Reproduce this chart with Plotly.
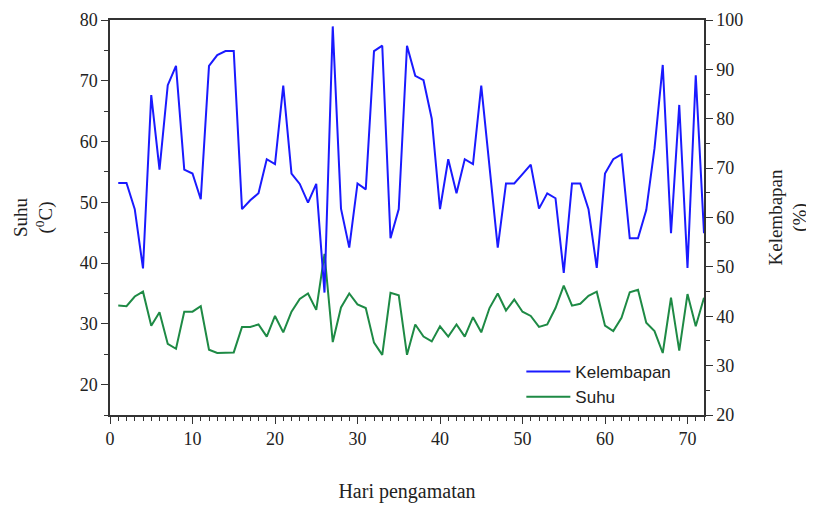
import plotly.graph_objects as go

days = list(range(1, 73))

kelembapan = [
    67, 67, 61.7, 49.7, 84.8, 69.7, 86.8, 90.7, 69.7, 68.9,
    63.7, 90.7, 92.9, 93.7, 93.7, 61.7, 63.5, 64.9, 71.8, 70.8,
    86.7, 68.9, 66.8, 63, 66.8, 44.8, 98.7, 61.8, 53.9, 66.9,
    65.7, 93.7, 94.8, 55.8, 61.7, 94.8, 88.7, 87.8, 80, 61.7,
    71.8, 64.9, 71.8, 70.8, 86.7, 70.3, 53.9, 66.9, 66.9, 68.8,
    70.7, 61.8, 64.9, 63.9, 48.8, 66.9, 66.9, 61.7, 49.8, 68.9,
    71.8, 72.8, 55.8, 55.8, 61.5, 74, 90.9, 56.8, 82.8, 49.8,
    88.8, 56.8,
]

suhu = [
    33.0, 32.9, 34.5, 35.3, 29.7, 31.9, 26.7, 25.9, 32.0, 32.0,
    32.9, 25.75, 25.2, 25.2, 25.3, 29.5, 29.5, 29.9, 27.9, 31.3,
    28.6, 32.0, 34.1, 35.0, 32.3, 41.5, 27.0, 32.7, 35.0, 33.2,
    32.6, 26.9, 24.9, 35.1, 34.7, 24.9, 29.9, 27.9, 27.1, 29.6,
    27.9, 29.9, 27.9, 31.1, 28.6, 32.6, 35.0, 32.2, 34.0, 32.0,
    31.3, 29.5, 29.9, 32.6, 36.3, 33.0, 33.3, 34.6, 35.3, 29.7,
    28.8, 31.0, 35.2, 35.6, 30.2, 28.8, 25.2, 34.3, 25.6, 34.9,
    29.6, 34.3,
]

x_ticks = [0, 10, 20, 30, 40, 50, 60, 70]
y_left_ticks = [20, 30, 40, 50, 60, 70, 80]
y_right_ticks = [20, 30, 40, 50, 60, 70, 80, 90, 100]

serif = "Liberation Serif, Times New Roman, serif"
axis_col = "#333333"

fig = go.Figure()
fig.add_trace(go.Scatter(
    x=days, y=kelembapan, name="Kelembapan", mode="lines",
    line=dict(color="#1a1aff", width=2), yaxis="y2",
))
fig.add_trace(go.Scatter(
    x=days, y=suhu, name="Suhu", mode="lines",
    line=dict(color="#1e8a45", width=2), yaxis="y",
))

fig.update_layout(
    width=806, height=500,
    margin=dict(l=102, r=110, t=12, b=93),
    paper_bgcolor="white", plot_bgcolor="white",
    font=dict(family=serif, size=18, color="#222222"),
    showlegend=True,
    legend=dict(
        x=0.6925, y=0.0, xanchor="left", yanchor="bottom",
        bgcolor="rgba(0,0,0,0)", itemwidth=44,
        font=dict(family="Liberation Sans, Arial, sans-serif", size=17, color="#222222"),
        tracegroupgap=0,
    ),
    xaxis=dict(
        range=[0, 72], tickvals=x_ticks, ticks="outside", ticklen=7,
        tickwidth=1.2, tickcolor=axis_col, automargin=False,
        showline=True, linecolor=axis_col, linewidth=1.5, mirror=True,
        showgrid=False, zeroline=False,
        minor=dict(dtick=1, tick0=0, ticks="outside", ticklen=4, tickcolor=axis_col, tickwidth=1),
        title=dict(text="Hari pengamatan", standoff=36, font=dict(family=serif, size=20)),
        tickfont=dict(family=serif, size=18),
    ),
    yaxis=dict(
        range=[15, 80], tickvals=y_left_ticks, ticks="outside", ticklen=7,
        tickwidth=1.2, tickcolor=axis_col, automargin=False,
        showline=True, linecolor=axis_col, linewidth=1.5,
        showgrid=False, zeroline=False,
        minor=dict(dtick=5, tick0=0, ticks="outside", ticklen=4, tickcolor=axis_col, tickwidth=1),
        title=dict(text="Suhu<br>(<sup>0</sup>C)", standoff=22, font=dict(family=serif, size=19)),
        tickfont=dict(family=serif, size=18),
    ),
    yaxis2=dict(
        range=[20, 100], tickvals=y_right_ticks, ticks="outside", ticklen=7,
        tickwidth=1.2, tickcolor=axis_col, automargin=False,
        showline=True, linecolor=axis_col, linewidth=1.5,
        overlaying="y", side="right", anchor="x",
        showgrid=False, zeroline=False,
        minor=dict(dtick=5, tick0=0, ticks="outside", ticklen=4, tickcolor=axis_col, tickwidth=1),
        title=dict(text="Kelembapan<br>(%)", standoff=26, font=dict(family=serif, size=19)),
        tickfont=dict(family=serif, size=18),
    ),
)

fig.write_html("out.html")
